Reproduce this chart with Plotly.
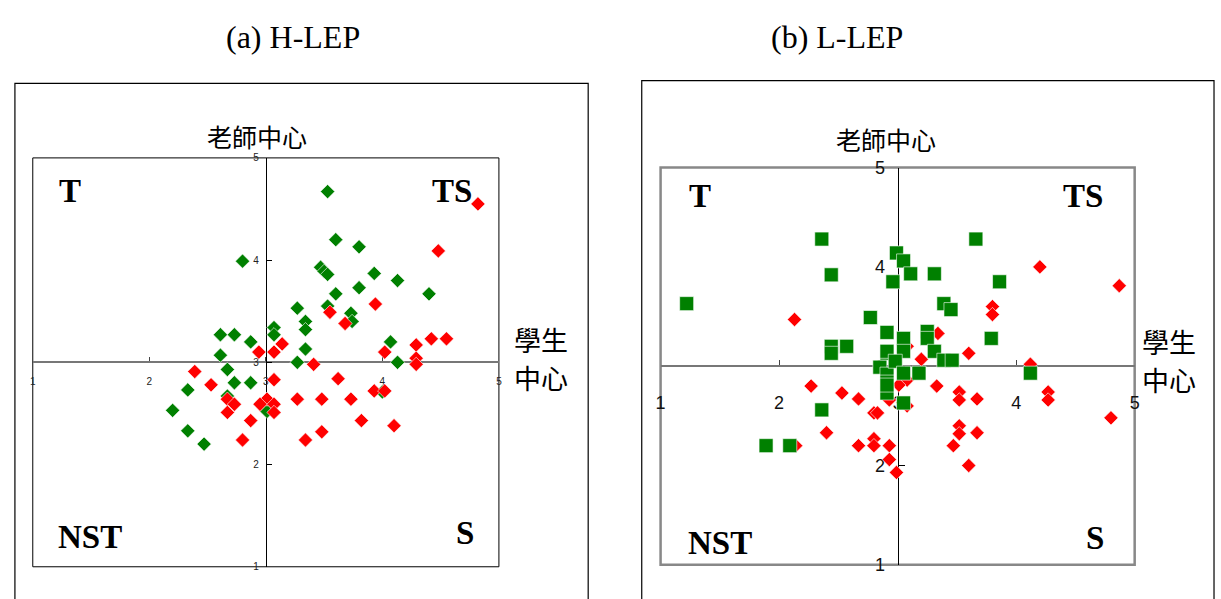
import plotly.graph_objects as go

W, H = 1221, 599

# ---------------- data ----------------
tick_vals = [1, 2, 3, 4, 5]
tick_text = ["1", "2", "3", "4", "5"]

# (a) H-LEP
h_green_x = [3.53, 3.60, 3.80, 2.80, 3.47, 3.50, 3.53, 3.93, 4.13, 4.40, 3.80, 3.60,
             3.27, 3.53, 3.73, 3.74, 3.34, 3.34, 3.07, 3.07, 2.61, 2.73, 2.87, 3.34,
             2.61, 4.07, 3.27, 4.13, 2.67, 2.73, 2.87, 2.33, 2.67, 2.20, 2.33, 2.47,
             3.01, 4.00]
h_green_y = [4.67, 4.20, 4.13, 3.99, 3.93, 3.89, 3.86, 3.87, 3.80, 3.67, 3.73, 3.67,
             3.53, 3.55, 3.48, 3.40, 3.40, 3.32, 3.34, 3.27, 3.27, 3.27, 3.20, 3.13,
             3.07, 3.20, 3.00, 3.00, 2.93, 2.80, 2.80, 2.73, 2.67, 2.53, 2.33, 2.20,
             2.52, 2.71]
h_red_x = [4.82, 4.48, 3.94, 3.55, 3.68, 4.42, 4.55, 4.29, 4.02, 4.29, 4.29, 3.14,
           3.07, 2.94, 3.41, 2.39, 2.53, 3.07, 3.62, 3.93, 4.02, 2.67, 2.73, 2.67,
           3.01, 2.95, 3.07, 3.07, 3.27, 3.48, 3.73, 2.87, 3.82, 4.10, 3.48, 3.34,
           2.80]
h_red_y = [4.55, 4.09, 3.57, 3.49, 3.38, 3.23, 3.23, 3.17, 3.10, 3.04, 2.98, 3.18,
           3.10, 3.10, 2.98, 2.91, 2.78, 2.83, 2.84, 2.72, 2.72, 2.64, 2.59, 2.51,
           2.64, 2.59, 2.59, 2.51, 2.64, 2.64, 2.64, 2.43, 2.43, 2.38, 2.32, 2.24,
           2.24]

# (b) L-LEP
l_green_x = [2.36, 2.44, 1.22, 2.77, 2.44, 2.44, 2.57, 2.36, 1.89, 2.09, 2.91, 2.91,
             2.85, 2.91, 2.91, 2.91, 2.99, 2.96, 3.05, 3.11, 3.31, 3.66, 3.86, 3.39,
             3.45, 3.79, 3.25, 3.25, 3.31, 3.39, 3.46, 3.05, 2.91, 3.05, 2.98, 3.05,
             3.18, 4.12, 2.91, 3.05]
l_green_y = [4.28, 3.92, 3.63, 3.49, 3.20, 3.13, 3.20, 2.56, 2.20, 2.20, 3.34, 3.13,
             2.99, 2.92, 2.84, 2.73, 4.14, 3.85, 4.06, 3.93, 3.93, 4.28, 3.85, 3.63,
             3.57, 3.28, 3.35, 3.28, 3.15, 3.06, 3.06, 3.28, 3.15, 3.15, 3.05, 2.93,
             2.93, 2.93, 2.81, 2.63]
l_red_x = [2.13, 2.27, 2.53, 2.67, 2.80, 2.40, 2.14, 2.67, 2.80, 2.80, 2.93, 2.93,
           2.99, 4.20, 4.87, 3.80, 3.80, 3.34, 3.60, 3.20, 4.12, 3.33, 3.52, 3.52,
           3.67, 4.27, 4.27, 4.80, 3.52, 3.52, 3.67, 3.47, 3.60, 3.08, 3.08, 3.08,
           3.01, 2.83, 2.93]
l_red_y = [3.47, 2.80, 2.73, 2.67, 2.53, 2.33, 2.20, 2.20, 2.27, 2.20, 2.20, 2.06,
           1.93, 4.00, 3.81, 3.60, 3.52, 3.33, 3.13, 3.07, 3.02, 2.80, 2.74, 2.66,
           2.67, 2.74, 2.66, 2.48, 2.40, 2.32, 2.33, 2.20, 2.00, 3.20, 2.86, 2.60,
           2.81, 2.53, 2.66]

GREEN = "#008000"
RED = "#FF0000"

# ---------------- geometry (pixels -> paper fraction) ----------------
def px(x):
    return x / W

def py(y):
    return 1 - y / H

L_X0, L_X1, L_Y0, L_Y1 = 28, 498, 153, 576      # left inner frame
R_X0, R_X1, R_Y0, R_Y1 = 661, 1139, 163, 574    # right inner frame

fig = go.Figure()

fig.add_trace(go.Scatter(x=h_green_x, y=h_green_y, mode="markers", xaxis="x", yaxis="y",
                         marker=dict(symbol="diamond", size=11, color=GREEN,
                                     line=dict(color="white", width=0.6)),
                         showlegend=False, cliponaxis=False))
fig.add_trace(go.Scatter(x=h_red_x, y=h_red_y, mode="markers", xaxis="x", yaxis="y",
                         marker=dict(symbol="diamond", size=11, color=RED,
                                     line=dict(color="white", width=0.6)),
                         showlegend=False, cliponaxis=False))
fig.add_trace(go.Scatter(x=l_red_x, y=l_red_y, mode="markers", xaxis="x2", yaxis="y2",
                         marker=dict(symbol="diamond", size=11, color=RED,
                                     line=dict(color="white", width=0.6)),
                         showlegend=False, cliponaxis=False))
fig.add_trace(go.Scatter(x=l_green_x, y=l_green_y, mode="markers", xaxis="x2", yaxis="y2",
                         marker=dict(symbol="square", size=14, color=GREEN,
                                     line=dict(color="white", width=0.6)),
                         showlegend=False, cliponaxis=False))

tick_font_s = dict(family="Arial, Liberation Sans", size=10, color="#222")
tick_font_l = dict(family="Arial, Liberation Sans", size=18, color="#111")

common = dict(range=[1, 5], tickvals=tick_vals, ticktext=tick_text, showgrid=False,
              zeroline=False, showline=True, ticks="inside", anchor="free",
              layer="below traces", fixedrange=True)

fig.update_layout(
    width=W, height=H,
    margin=dict(l=0, r=0, t=0, b=0),
    paper_bgcolor="white", plot_bgcolor="rgba(0,0,0,0)",
    xaxis=dict(domain=[px(L_X0), px(L_X1)], position=py((L_Y0 + L_Y1) / 2),
               linecolor="#777", linewidth=2, ticklen=4, tickcolor="#444",
               tickfont=tick_font_s, ticklabelstandoff=10, **common),
    yaxis=dict(domain=[py(L_Y1), py(L_Y0)], position=px((L_X0 + L_X1) / 2),
               linecolor="black", linewidth=1, ticklen=5, tickcolor="black",
               tickfont=tick_font_s, ticklabelstandoff=5, **common),
    xaxis2=dict(domain=[px(R_X0), px(R_X1)], position=py((R_Y0 + R_Y1) / 2),
                linecolor="#777", linewidth=2, ticklen=5, tickcolor="#444",
                tickfont=tick_font_l, ticklabelstandoff=20, **common),
    yaxis2=dict(domain=[py(R_Y1), py(R_Y0)], position=px((R_X0 + R_X1) / 2),
                linecolor="black", linewidth=1, ticklen=6, tickcolor="black",
                tickfont=tick_font_l, ticklabelstandoff=9, **common),
)

shapes = [
    dict(type="rect", xref="paper", yref="paper", x0=px(10), x1=px(588), y0=-0.02, y1=py(76),
         line=dict(color="black", width=1.2), layer="below"),
    dict(type="rect", xref="paper", yref="paper", x0=px(642), x1=px(1219), y0=-0.02, y1=py(73),
         line=dict(color="black", width=1.2), layer="below"),
    dict(type="rect", xref="x domain", yref="y domain", x0=0, x1=1, y0=0, y1=1,
         line=dict(color="black", width=1), layer="below"),
    dict(type="rect", xref="x2 domain", yref="y2 domain", x0=0, x1=1, y0=0, y1=1,
         line=dict(color="#888", width=2.5), layer="below"),
]
fig.update_layout(shapes=shapes)

serif = "Times New Roman, Liberation Serif, serif"
cjk = "Noto Sans CJK TC, Noto Sans CJK SC, sans-serif"

def ann(text, x, y, size, family, bold=False, xanchor="center"):
    t = f"<b>{text}</b>" if bold else text
    return dict(text=t, x=px(x), y=py(y), xref="paper", yref="paper", showarrow=False,
                xanchor=xanchor, yanchor="middle", borderpad=0,
                font=dict(family=family, size=size, color="black"))

annotations = [
    ann("(a) H-LEP", 290, 28, 32, serif),
    ann("(b) L-LEP", 839, 28, 32, serif),
    ann("老師中心", 254, 130, 25, cjk),
    ann("老師中心", 888, 133, 25, cjk),
    ann("學生", 540, 341, 27, cjk),
    ann("中心", 540, 380, 27, cjk),
    ann("學生", 1174, 343, 27, cjk),
    ann("中心", 1174, 382, 27, cjk),
    ann("T", 66, 187, 33, serif, True),
    ann("TS", 451, 187, 33, serif, True),
    ann("NST", 86, 545, 33, serif, True),
    ann("S", 464, 541, 33, serif, True),
    ann("T", 701, 192, 33, serif, True),
    ann("TS", 1087, 192, 33, serif, True),
    ann("NST", 721, 551, 33, serif, True),
    ann("S", 1099, 546, 33, serif, True),
]
fig.update_layout(annotations=annotations)

fig.write_html("out.html")
